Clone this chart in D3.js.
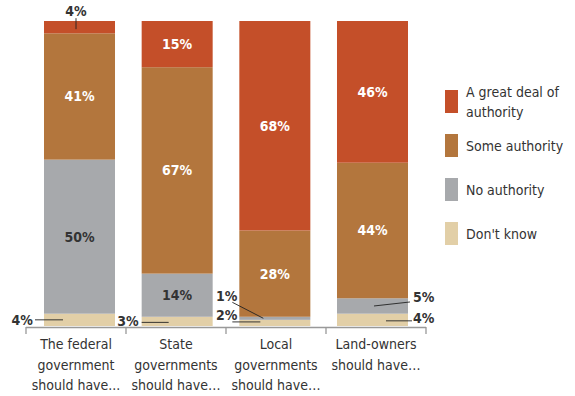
<!DOCTYPE html>
<html>
<head>
<meta charset="utf-8">
<script src="https://cdn.jsdelivr.net/npm/d3@7"></script>
<style>
  body { margin: 0; background: #fff; }
  text { font-family: "Liberation Sans Narrow", "DejaVu Sans Condensed", sans-serif; }
</style>
</head>
<body>
<div id="canvas"></div>
<script>
"use strict"

/* Chart data */
let categories = ["federal", "state", "local", "owners"]
let categoryLines = [
    ["The federal", "government", "should have..."],
    ["State", "governments", "should have\u2026"],
    ["Local", "governments", "should have\u2026"],
    ["Land-owners", "should have\u2026"]
]
let seriesNames = ["Don't know", "No authority", "Some authority", "A great deal of authority"]
let dontKnow = [4, 3, 2, 4]
let noAuthority = [50, 14, 1, 5]
let someAuthority = [41, 67, 28, 44]
let greatDeal = [4, 15, 68, 46]
let colors = ["#e2cfa7", "#a7a9ac", "#b3763d", "#c44f29"]
let labelColors = ["#333", "#333", "#fff", "#fff"]

/* Canvas size */
let svgWidth = 575
let svgHeight = 396

let svg = d3.select("#canvas")
    .append("svg")
    .attr("width", svgWidth)
    .attr("height", svgHeight)

/* Table for the stack */
let table = categories.map(function (c, i) {
    return {
        cat: c,
        s0: dontKnow[i],
        s1: noAuthority[i],
        s2: someAuthority[i],
        s3: greatDeal[i]
    }
})
let stacked = d3.stack().keys(["s0", "s1", "s2", "s3"])(table)

let xScale = d3.scaleBand()
    .domain(categories)
    .range([44, 408])
    .paddingInner(0.273)
    .paddingOuter(0)

let yScale = d3.scaleLinear()
    .domain([0, 99])
    .range([326, 21])

/* Bars */
let groups = svg.selectAll("g.layer")
    .data(stacked)
    .join("g")
    .attr("class", "layer")
    .attr("fill", function (d, i) { return colors[i] })

groups.selectAll("rect")
    .data(function (d) { return d })
    .join("rect")
    .attr("x", function (d) { return xScale(d.data.cat) })
    .attr("width", xScale.bandwidth())
    .attr("y", function (d) { return yScale(d[1]) })
    .attr("height", function (d) { return yScale(d[0]) - yScale(d[1]) })

/* Labels inside the big segments */
stacked.forEach(function (layer, li) {
    layer.forEach(function (d) {
        let v = d[1] - d[0]
        if (v < 10) return
        svg.append("text")
            .attr("x", xScale(d.data.cat) + xScale.bandwidth() / 2)
            .attr("y", (yScale(d[0]) + yScale(d[1])) / 2 + 5)
            .attr("text-anchor", "middle")
            .attr("font-size", 14)
            .attr("font-weight", "bold")
            .attr("fill", labelColors[li])
            .text(v + "%")
    })
})

/* Callouts for the small segments, offsets relative to the bar's left edge and segment middle */
function callout(ci, li, tx, ty, anchor, x1, y1, x2, y2) {
    let d = stacked[li][ci]
    let v = d[1] - d[0]
    let bx = xScale(categories[ci])
    let my = (yScale(d[0]) + yScale(d[1])) / 2
    svg.append("line")
        .attr("x1", bx + x1).attr("y1", my + y1)
        .attr("x2", bx + x2).attr("y2", my + y2)
        .attr("stroke", "#222")
        .attr("stroke-width", 0.9)
    svg.append("text")
        .attr("x", bx + tx)
        .attr("y", my + ty)
        .attr("text-anchor", anchor)
        .attr("font-size", 14)
        .attr("font-weight", "bold")
        .attr("fill", "#333")
        .text(v + "%")
}
callout(0, 3, 32, -11, "middle", 32, -9, 32, 2)
callout(0, 0, -11, 5, "end", -9, 0, 19, 0)
callout(1, 0, -3, 5, "end", 0, 1, 27, 1)
callout(2, 1, -2, -17, "end", -7, -16, 24, 0)
callout(2, 0, -2, -3, "end", -7, -1, 21, -1)
callout(3, 1, 76, -4, "start", 37, 0, 73, -4)
callout(3, 0, 76, 3, "start", 49, 1, 75, 1)

/* Axis line with separators */
svg.append("line")
    .attr("x1", 26).attr("x2", 426)
    .attr("y1", 327.5).attr("y2", 327.5)
    .attr("stroke", "#999")
    .attr("stroke-width", 1.3)

let seps = [26, 126, 226, 326, 426]
seps.forEach(function (x) {
    svg.append("line")
        .attr("x1", x).attr("x2", x)
        .attr("y1", 327).attr("y2", 334)
        .attr("stroke", "#999")
        .attr("stroke-width", 1.3)
})

/* Category labels */
categories.forEach(function (c, i) {
    let t = svg.append("text")
        .attr("text-anchor", "middle")
        .attr("font-size", 14)
        .attr("fill", "#333")
    categoryLines[i].forEach(function (line, j) {
        t.append("tspan")
            .attr("x", seps[i] + 50)
            .attr("y", 349 + j * 20.5)
            .text(line)
    })
})

/* Legend, top item first */
let legendItems = [3, 2, 1, 0]
legendItems.forEach(function (si, k) {
    let top = 90 + k * 44
    svg.append("rect")
        .attr("x", 445)
        .attr("y", top)
        .attr("width", 13)
        .attr("height", 23)
        .attr("fill", colors[si])
    let t = svg.append("text")
        .attr("font-size", 14)
        .attr("fill", "#333")
    let words = si === 3 ? ["A great deal of", "authority"] : [seriesNames[si]]
    words.forEach(function (w, j) {
        t.append("tspan")
            .attr("x", 466)
            .attr("y", (si === 3 ? top + 7 : top + 17) + j * 20)
            .text(w)
    })
})
</script>
</body>
</html>
